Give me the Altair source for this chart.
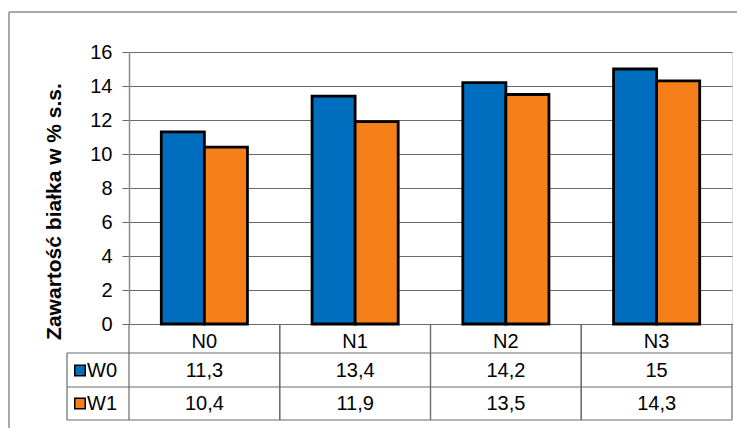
import altair as alt
import pandas as pd

categories = ["N0", "N1", "N2", "N3"]
series = ["W0", "W1"]
w0_values = [11.3, 13.4, 14.2, 15]
w1_values = [10.4, 11.9, 13.5, 14.3]
y_ticks = [0, 2, 4, 6, 8, 10, 12, 14, 16]
y_title = "Zawartość białka w % s.s."

colors = ["#006EBE", "#F5801A"]
FONT = "Liberation Sans"
W, H = 603, 272
row_y = {"W0": 318.5, "W1": 351.5}
line_col = "#6a6a6a"

rows = []
for s, vals in zip(series, [w0_values, w1_values]):
    for c, v in zip(categories, vals):
        rows.append({"cat": c, "series": s, "value": v})
df = pd.DataFrame(rows)

xscale = alt.Scale(domain=categories, paddingInner=0, paddingOuter=0)
cscale = alt.Scale(domain=series, range=colors)
xaxis = alt.Axis(title=None, ticks=False, labelAngle=0, labelFontSize=20,
                 labelPadding=7, labelColor="black", domainColor=line_col,
                 domainWidth=1.2, labelFont=FONT)


def xenc(**kw):
    return alt.X("cat:N", scale=xscale, sort=categories, axis=xaxis, **kw)


one = pd.DataFrame({"a": [0]})
frame_top = alt.Chart(one).mark_rule(color="#8c8c8c", strokeWidth=1.5).encode(
    x=alt.value(-120), x2=alt.value(W + 20), y=alt.value(-40))
frame_left = alt.Chart(one).mark_rule(color="#8c8c8c", strokeWidth=1.5).encode(
    x=alt.value(-120), y=alt.value(-40), y2=alt.value(400))

bars = alt.Chart(df).mark_bar(stroke="black", strokeWidth=2.8).encode(
    x=xenc(),
    xOffset=alt.XOffset("series:N", sort=series,
                        scale=alt.Scale(paddingInner=0, paddingOuter=0.75)),
    y=alt.Y("value:Q", scale=alt.Scale(domain=[0, 16], nice=False),
            axis=alt.Axis(values=y_ticks, title=y_title, grid=True, gridColor=line_col,
                          gridWidth=1, tickSize=7, tickColor=line_col, domainColor="#8c8c8c",
                          domainWidth=1.5, labelFontSize=20, labelPadding=10,
                          labelColor="black", labelFont=FONT, titleFont=FONT,
                          titleFontSize=21, titleFontWeight="bold", titleColor="black",
                          titleAngle=270, titleX=-69, titleY=159, titleAlign="center",
                          titleBaseline="alphabetic")),
    color=alt.Color("series:N", scale=cscale, legend=None),
)

cat_df = pd.DataFrame({"cat": categories})
vsep_left = alt.Chart(cat_df).mark_rule(color=line_col, strokeWidth=1.2).encode(
    x=xenc(bandPosition=0), y=alt.value(H), y2=alt.value(368),
)
vsep_right = alt.Chart(cat_df).mark_rule(color=line_col, strokeWidth=1.2).encode(
    x=xenc(bandPosition=1), y=alt.value(H), y2=alt.value(368),
)

layers = [frame_top, frame_left, bars, vsep_left, vsep_right]

for yy in [301, 335, 368]:
    layers.append(alt.Chart(one).mark_rule(color=line_col, strokeWidth=1.2).encode(
        x=alt.value(-62), x2=alt.value(W), y=alt.value(yy)))
layers.append(alt.Chart(one).mark_rule(color=line_col, strokeWidth=1.2).encode(
    x=alt.value(-62), y=alt.value(301), y2=alt.value(368)))

for s in series:
    sub = df[df["series"] == s].copy()
    sub["label"] = [str(v).replace(".", ",") if v != int(v) else str(int(v)) for v in sub["value"]]
    layers.append(alt.Chart(sub).mark_text(fontSize=20, font=FONT, color="black",
                                           baseline="middle").encode(
        x=xenc(), y=alt.value(row_y[s]), text="label:N"))
    sdf = pd.DataFrame({"series": [s]})
    layers.append(alt.Chart(sdf).mark_point(shape="square", size=110, filled=True,
                                            stroke="black", strokeWidth=1.5, opacity=1).encode(
        x=alt.value(-49), y=alt.value(row_y[s]),
        color=alt.Color("series:N", scale=cscale, legend=None)))
    layers.append(alt.Chart(sdf).mark_text(fontSize=20, font=FONT, color="black",
                                           align="left", baseline="middle").encode(
        x=alt.value(-42), y=alt.value(row_y[s]), text="series:N"))

chart = alt.layer(*layers).properties(
    width=W, height=H, autosize="none",
    padding={"left": 121, "top": 44, "right": 5, "bottom": 104},
    background="white",
).configure_view(stroke="#8c8c8c", strokeWidth=2).configure(font=FONT)

chart.save("out.html", embed_options={"renderer": "svg", "actions": False})
